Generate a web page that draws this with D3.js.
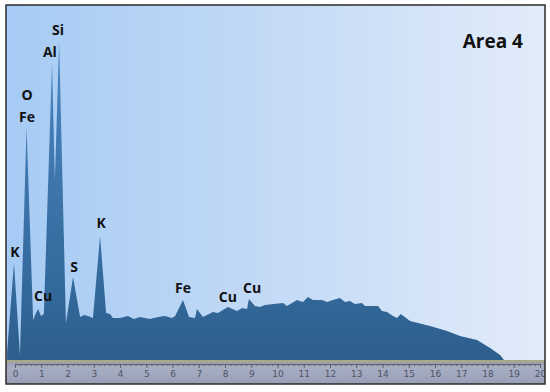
<!DOCTYPE html>
<html>
<head>
<meta charset="utf-8">
<script src="https://cdn.jsdelivr.net/npm/d3@7"></script>
<style>
  body{margin:0;background:#fff;}
  svg{display:block;}
</style>
</head>
<body>
<svg id="chart" width="550" height="392"></svg>
<script>
// spectrum: energy (keV) and counts
var energy=[-0.30,-0.04,0.19,0.44,0.69,0.80,0.88,0.99,1.10,1.41,1.52,1.68,1.94,2.21,2.48,2.63,2.78,2.97,3.24,3.47,3.62,3.73,4.00,4.30,4.53,4.76,5.14,5.45,5.71,5.98,6.10,6.40,6.63,6.86,6.93,7.16,7.54,7.73,8.11,8.46,8.65,8.84,8.91,9.14,9.33,9.52,10.21,10.36,10.74,10.97,11.16,11.35,11.70,11.89,12.11,12.38,12.57,12.76,12.95,13.22,13.33,13.83,13.98,14.17,14.40,14.55,14.70,15.05,15.81,16.46,16.95,17.60,18.10,18.48,18.63];
var counts=[8,97,5,233,40,47,51,44,46,297,180,319,37,83,43,45,44,42,124,47,46,42,42,44,41,43,41,43,44,42,44,60,43,42,51,43,48,47,53,49,52,51,61,54,53,55,57,54,60,58,63,60,60,58,60,62,58,59,56,57,54,54,49,48,44,42,46,39,34,29,24,20,12,5,0];

var labelText=['Si','Al','O','Fe','K','Cu','S','K','Fe','Cu','Cu'];
var labelE=[1.64,1.33,0.46,0.46,0.0,1.07,2.25,3.28,6.4,8.11,9.03];
var labelC=[325,303,260,238,103,59,88,132,67,58,67];

var tickValues=d3.range(0,21);
var title='Area 4';

var svg=d3.select('#chart');
// frame edges (window.top is reserved, so use other names)
var fL=6,fT=5,fR=545,fB=384,base=360;

var x=d3.scaleLinear().domain([0,20]).range([15,540]);
var y=d3.scaleLinear().domain([0,340]).range([base,20]);

var defs=svg.append('defs');
var bg=defs.append('linearGradient').attr('id','bg').attr('x1','0').attr('x2','1').attr('y1','0').attr('y2','0');
bg.append('stop').attr('offset','0').attr('stop-color','#a6cbf4');
bg.append('stop').attr('offset','0.5').attr('stop-color','#c4daf6');
bg.append('stop').attr('offset','1').attr('stop-color','#e2ecfa');

var fill=defs.append('linearGradient').attr('id','fill').attr('gradientUnits','userSpaceOnUse')
  .attr('x1',0).attr('x2',0).attr('y1',30).attr('y2',base);
fill.append('stop').attr('offset','0').attr('stop-color','#4d88c4');
fill.append('stop').attr('offset','0.8').attr('stop-color','#33689a');
fill.append('stop').attr('offset','1').attr('stop-color','#2e5e8b');

var strip=defs.append('linearGradient').attr('id','strip').attr('x1','0').attr('x2','0').attr('y1','0').attr('y2','1');
strip.append('stop').attr('offset','0').attr('stop-color','#8d95ab');
strip.append('stop').attr('offset','0.3').attr('stop-color','#a7aec4');
strip.append('stop').attr('offset','1').attr('stop-color','#979fb6');

defs.append('clipPath').attr('id','frame').append('rect')
  .attr('x',fL).attr('y',fT).attr('width',fR-fL).attr('height',fB-fT);

var g=svg.append('g').attr('clip-path','url(#frame)');

g.append('rect').attr('x',fL).attr('y',fT).attr('width',fR-fL).attr('height',base-fT)
  .attr('fill','url(#bg)');

var pts=energy.map(function(e,i){return [e,counts[i]];});
var area=d3.area().x(function(d){return x(d[0]);}).y0(base).y1(function(d){return y(d[1]);});
g.append('path').datum(pts).attr('d',area).attr('fill','url(#fill)');

// ruler strip
g.append('rect').attr('x',fL).attr('y',base).attr('width',fR-fL).attr('height',fB-base)
  .attr('fill','url(#strip)');
g.append('rect').attr('x',fL).attr('y',base).attr('width',fR-fL).attr('height',2.5)
  .attr('fill','#a7a98a');

var minor=g.append('g').attr('transform','translate(0,'+(base+4)+')')
  .call(d3.axisBottom(x).tickValues(d3.range(0,20.01,0.2)).tickSize(2).tickFormat(''));
var major=g.append('g').attr('transform','translate(0,'+(base+4)+')')
  .call(d3.axisBottom(x).tickValues(tickValues).tickSize(4).tickPadding(3).tickFormat(d3.format('d')));
[minor,major].forEach(function(a){
  a.select('.domain').attr('stroke','#5a6070').attr('stroke-width',1);
  a.selectAll('.tick line').attr('stroke','#5a6070');
});
major.selectAll('.tick text').attr('fill','#4d5466').style('font-family','DejaVu Sans, sans-serif')
  .style('font-size','9px');

// element labels
g.selectAll('text.el').data(labelText).enter().append('text').attr('class','el')
  .attr('x',function(d,i){return x(labelE[i]);})
  .attr('y',function(d,i){return y(labelC[i]);})
  .attr('text-anchor','middle')
  .style('font-family','Open Sans, sans-serif').style('font-weight','bold').style('font-size','14px')
  .attr('fill','#111').text(function(d){return d;});

g.append('text').attr('x',523).attr('y',48).attr('text-anchor','end')
  .style('font-family','Open Sans, sans-serif').style('font-weight','bold').style('font-size','19px')
  .attr('fill','#111').text(title);

svg.append('rect').attr('x',fL).attr('y',fT).attr('width',fR-fL).attr('height',fB-fT)
  .attr('fill','none').attr('stroke','#2b2b2b').attr('stroke-width',1.5);
</script>
</body>
</html>
